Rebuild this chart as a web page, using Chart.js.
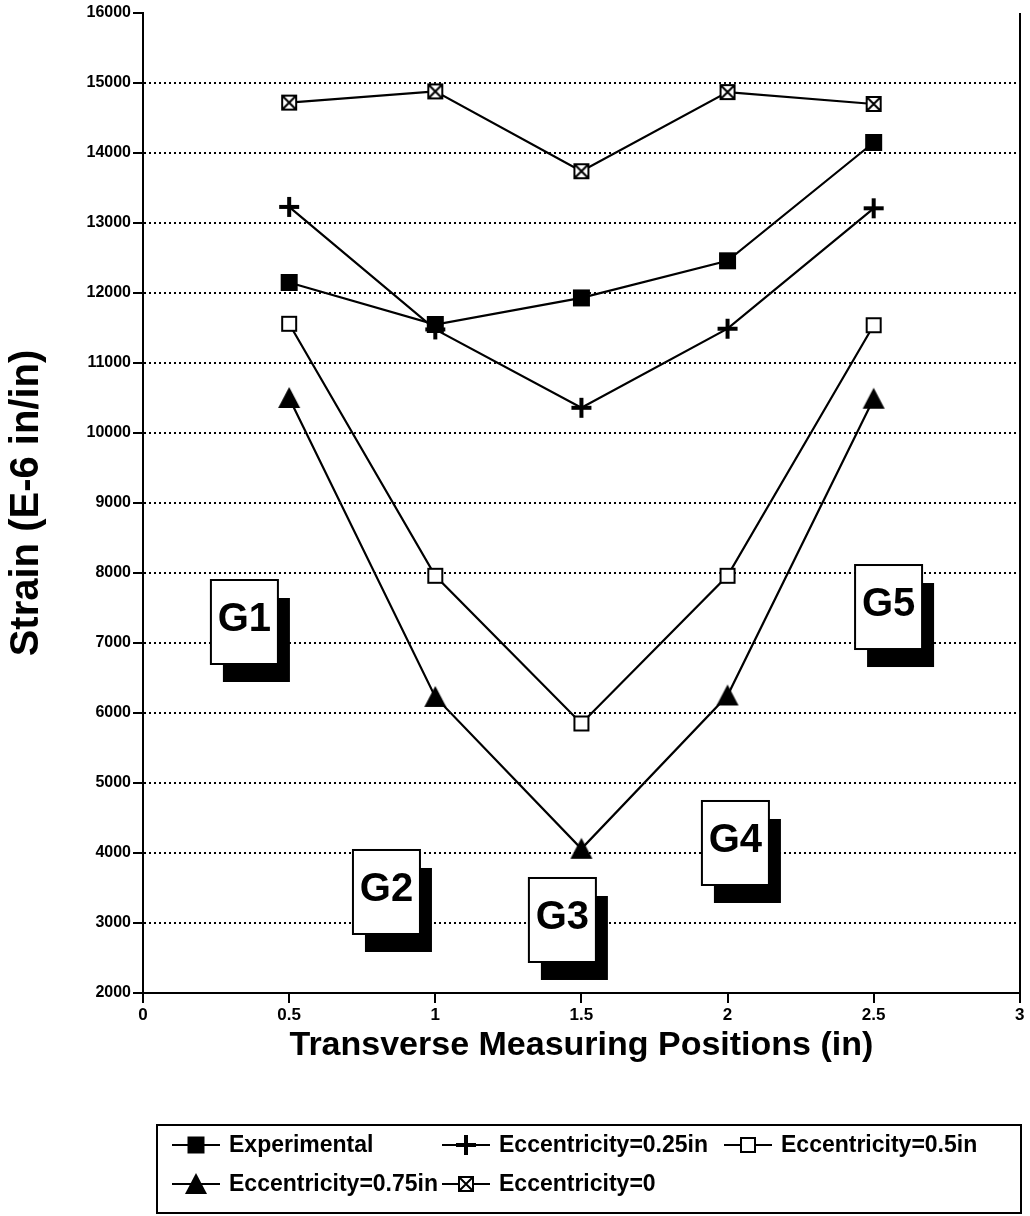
<!DOCTYPE html>
<html>
<head>
<meta charset="utf-8">
<script src="https://cdn.jsdelivr.net/npm/chart.js@4.4.1/dist/chart.umd.min.js"></script>
<style>
  html, body { margin: 0; padding: 0; background: #fff; }
</style>
</head>
<body>
<canvas id="chart-canvas" width="1030" height="1216"></canvas>
<script>
// values
const positions = [0.5, 1, 1.5, 2, 2.5];
const experimental = [12150, 11550, 11930, 12460, 14150];
const ecc025 = [13230, 11480, 10360, 11490, 13210];
const ecc05 = [11560, 7960, 5850, 7960, 11540];
const ecc075 = [10500, 6230, 4060, 6250, 10490];
const ecc0 = [14720, 14880, 13740, 14870, 14700];
const seriesLabels = ["Experimental", "Eccentricity=0.25in", "Eccentricity=0.5in", "Eccentricity=0.75in", "Eccentricity=0"];
const xTicks = [0, 0.5, 1, 1.5, 2, 2.5, 3];

// gauge tags (G1..G5), placed in data units
const gaugeLabels = ["G1", "G2", "G3", "G4", "G5"];
const gaugeX = [0.347, 0.833, 1.435, 2.027, 2.551];
const gaugeY = [7300, 3443, 3043, 4143, 7514];

const FONT = '"Liberation Sans", Arial, Helvetica, sans-serif';

// marker images
const makeMarker = (draw, size) => {
  const c = document.createElement("canvas");
  c.width = size;
  c.height = size;
  const g = c.getContext("2d");
  draw(g, size);
  return c;
};

const mkSquareFilled = makeMarker((g) => {
  g.fillStyle = "#000";
  g.fillRect(2, 2, 17, 17);
}, 21);

const mkCross = makeMarker((g) => {
  g.fillStyle = "#000";
  g.fillRect(9, 1, 4, 20);
  g.fillRect(1, 9, 20, 4);
}, 22);

const mkSquareOpen = makeMarker((g) => {
  g.fillStyle = "#fff";
  g.fillRect(2, 2, 16, 16);
  g.strokeStyle = "#000";
  g.lineWidth = 2;
  g.strokeRect(3, 3, 14, 14);
}, 20);

const mkTriangle = makeMarker((g) => {
  g.fillStyle = "#000";
  g.beginPath();
  g.moveTo(12, 1);
  g.lineTo(23, 22);
  g.lineTo(1, 22);
  g.closePath();
  g.fill();
}, 24);

const mkSquareX = makeMarker((g) => {
  g.fillStyle = "#fff";
  g.fillRect(2, 2, 16, 16);
  g.strokeStyle = "#000";
  g.lineWidth = 2;
  g.strokeRect(3, 3, 14, 14);
  g.beginPath();
  g.moveTo(4, 4);
  g.lineTo(16, 16);
  g.moveTo(16, 4);
  g.lineTo(4, 16);
  g.stroke();
}, 20);

const toPoints = (vals) => positions.map((p, i) => ({ x: p, y: vals[i] }));

const makeSet = (label, vals, marker) => ({
  label,
  data: toPoints(vals),
  borderColor: "#000",
  backgroundColor: "#000",
  borderWidth: 2.2,
  pointStyle: marker,
  pointRadius: 8,
  pointHoverRadius: 8,
  tension: 0,
  fill: false,
});

const gaugeBoxes = {
  id: "gaugeBoxes",
  afterDatasetsDraw(chart) {
    const { ctx, scales } = chart;
    const w = 67, h = 84;
    ctx.save();
    gaugeLabels.forEach((lab, i) => {
      const cx = scales.x.getPixelForValue(gaugeX[i]);
      const cy = scales.y.getPixelForValue(gaugeY[i]);
      ctx.fillStyle = "#000";
      ctx.fillRect(cx - w / 2 + 12, cy - h / 2 + 18, w, h);
      ctx.fillStyle = "#fff";
      ctx.fillRect(cx - w / 2, cy - h / 2, w, h);
      ctx.strokeStyle = "#000";
      ctx.lineWidth = 2;
      ctx.strokeRect(cx - w / 2, cy - h / 2, w, h);
      ctx.fillStyle = "#000";
      ctx.font = "bold 40px " + FONT;
      ctx.textAlign = "center";
      ctx.textBaseline = "middle";
      ctx.fillText(lab, cx, cy - 2);
    });
    ctx.restore();
  },
};

const legendBox = {
  id: "legendBox",
  afterDraw(chart) {
    const ctx = chart.ctx;
    const slots = [[196, 1145], [466, 1145], [748, 1145], [196, 1184], [466, 1184]];
    ctx.save();
    ctx.strokeStyle = "#000";
    ctx.lineWidth = 2;
    ctx.strokeRect(157, 1125, 864, 88);
    ctx.font = "bold 23px " + FONT;
    ctx.textAlign = "left";
    ctx.textBaseline = "middle";
    ctx.fillStyle = "#000";
    chart.data.datasets.forEach((ds, i) => {
      const [mx, my] = slots[i];
      ctx.beginPath();
      ctx.moveTo(mx - 24, my);
      ctx.lineTo(mx + 24, my);
      ctx.stroke();
      const m = ds.pointStyle;
      ctx.drawImage(m, mx - m.width / 2, my - m.height / 2);
      ctx.fillText(ds.label, mx + 33, my + 1);
    });
    ctx.restore();
  },
};

new Chart(document.getElementById("chart-canvas").getContext("2d"), {
  type: "line",
  data: {
    datasets: [
      makeSet(seriesLabels[0], experimental, mkSquareFilled),
      makeSet(seriesLabels[1], ecc025, mkCross),
      makeSet(seriesLabels[2], ecc05, mkSquareOpen),
      makeSet(seriesLabels[3], ecc075, mkTriangle),
      makeSet(seriesLabels[4], ecc0, mkSquareX),
    ],
  },
  options: {
    responsive: false,
    animation: false,
    layout: { padding: { top: 13, right: 8, left: 0, bottom: 0 } },
    plugins: {
      legend: { display: false },
      tooltip: { enabled: false },
    },
    scales: {
      x: {
        type: "linear",
        min: 0,
        max: 3,
        afterBuildTicks: (scale) => {
          scale.ticks = xTicks.map((v) => ({ value: v }));
        },
        afterFit: (scale) => {
          scale.height = 223;
        },
        ticks: {
          autoSkip: false,
          maxRotation: 0,
          padding: 2,
          color: "#000",
          font: { family: FONT, size: 17, weight: "bold" },
          callback: (v) => String(v),
        },
        grid: {
          color: (c) => (c.tick && c.tick.value === 3 ? "#000" : "rgba(0,0,0,0)"),
          lineWidth: 2,
          tickColor: "#000",
          tickWidth: 2,
          tickLength: 10,
        },
        border: { display: true, color: "#000", width: 2 },
        title: {
          display: true,
          text: "Transverse Measuring Positions (in)",
          color: "#000",
          font: { family: FONT, size: 34, weight: "bold" },
          padding: { top: 0, bottom: 150 },
        },
      },
      y: {
        type: "linear",
        min: 2000,
        max: 16000,
        afterFit: (scale) => {
          scale.width = 143;
        },
        ticks: {
          stepSize: 1000,
          padding: 2,
          color: "#000",
          font: { family: FONT, size: 16, weight: "bold" },
          callback: (v) => String(v),
        },
        grid: {
          color: (c) =>
            c.tick && (c.tick.value === 2000 || c.tick.value === 16000) ? "rgba(0,0,0,0)" : "#000",
          lineWidth: 2,
          tickColor: "#000",
          tickWidth: 2,
          tickLength: 10,
          tickBorderDash: [],
        },
        border: { display: true, color: "#000", width: 2, dash: [2, 3] },
        title: {
          display: true,
          text: "Strain (E-6 in/in)",
          color: "#000",
          font: { family: FONT, size: 40, weight: "bold" },
          padding: { top: 3, bottom: 0 },
        },
      },
    },
  },
  plugins: [gaugeBoxes, legendBox],
});
</script>
</body>
</html>
